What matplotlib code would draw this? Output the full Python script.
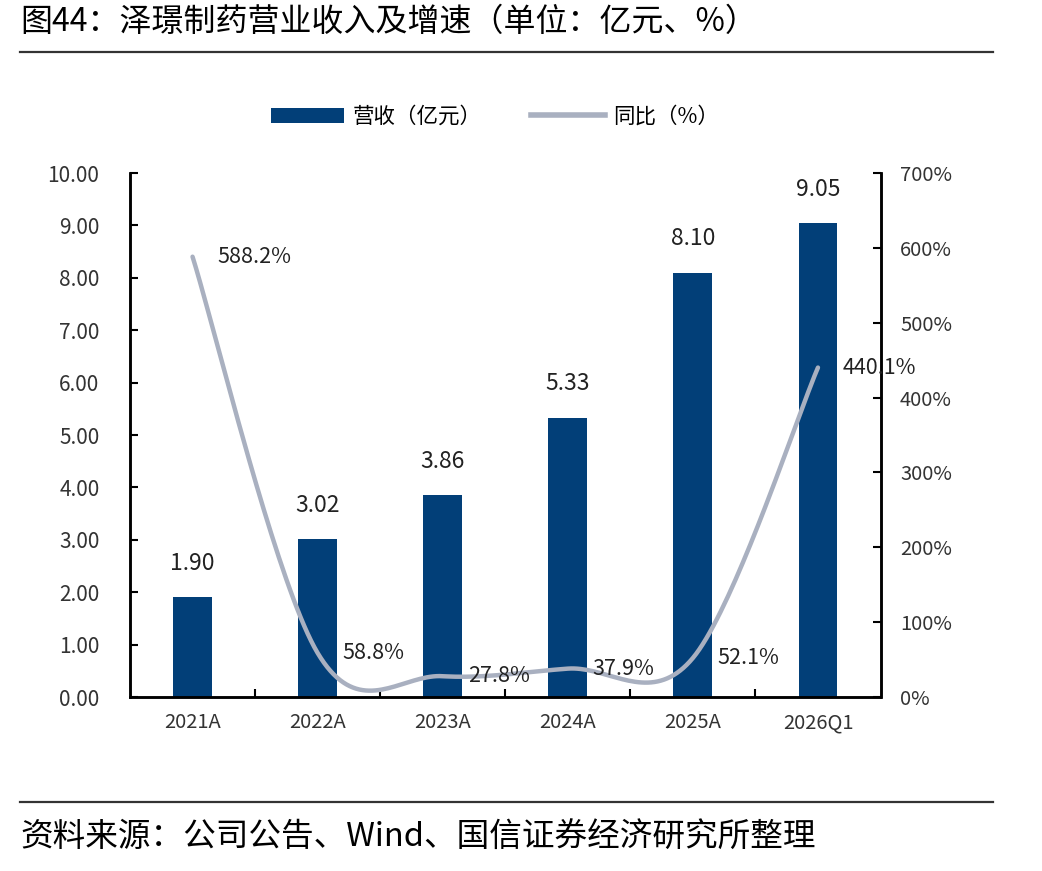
import numpy as np
import matplotlib
matplotlib.use('Agg')
import matplotlib.pyplot as plt
from matplotlib.lines import Line2D
from matplotlib.patches import Patch

plt.rcParams['font.family'] = ['Noto Sans CJK SC', 'DejaVu Sans']

categories = ['2021A', '2022A', '2023A', '2024A', '2025A', '2026Q1']
revenue = [1.90, 3.02, 3.86, 5.33, 8.10, 9.05]
growth = [588.2, 58.8, 27.8, 37.9, 52.1, 440.1]

title = '图44：泽璟制药营业收入及增速（单位：亿元、%）'
source = '资料来源：公司公告、Wind、国信证券经济研究所整理'

BAR_COLOR = '#023F78'
LINE_COLOR = '#A9B0C0'


def smooth_curve(xs, ys, sx, sy, n=40):
    """Catmull-Rom style smoothing (like Excel's smoothed line), done in pixel-ish space."""
    px = np.asarray(xs, float) * sx
    py = np.asarray(ys, float) * sy
    pts = np.column_stack([px, py])
    ext = np.vstack([pts[0], pts, pts[-1]])
    out = []
    t = np.linspace(0, 1, n)[:, None]
    for i in range(1, len(ext) - 2):
        p0, p1, p2, p3 = ext[i - 1], ext[i], ext[i + 1], ext[i + 2]
        c1 = p1 + (p2 - p0) / 6
        c2 = p2 - (p3 - p1) / 6
        seg = ((1 - t) ** 3) * p1 + 3 * ((1 - t) ** 2) * t * c1 + 3 * (1 - t) * t ** 2 * c2 + t ** 3 * p2
        out.append(seg if i == 1 else seg[1:])
    out = np.vstack(out)
    return out[:, 0] / sx, out[:, 1] / sy


fig = plt.figure(figsize=(10.42, 8.71), dpi=100)
ax = fig.add_axes([130 / 1042, 1 - 697 / 871, 750.5 / 1042, 524 / 871])
ax2 = ax.twinx()

x = np.arange(len(categories))
ax.bar(x, revenue, width=0.31, color=BAR_COLOR, zorder=2)
for xi, v in zip(x, revenue):
    ax.annotate(f'{v:.2f}', (xi, v), xytext=(0, 16), textcoords='offset points',
                ha='center', va='bottom', fontsize=16.5, color='#222222')

ax.set_xlim(-0.5, len(categories) - 0.5)
ax.set_ylim(0, 10)
ax.set_yticks(np.arange(0, 10.01, 1))
ax.set_yticklabels([f'{v:.2f}' for v in np.arange(0, 10.01, 1)], fontsize=15, color='#333333')
ax.set_xticks(x)
ax.set_xticklabels(categories, fontsize=14.5, color='#333333')
ax.set_xticks(np.arange(0.5, len(categories) - 1, 1), minor=True)
ax.tick_params(axis='x', which='major', length=0, pad=11)
ax.tick_params(axis='x', which='minor', direction='in', length=6, width=1.5)
ax.tick_params(axis='y', direction='in', length=6, width=1.5, pad=22)

sx = 750.5 / 6
sy = 524 / 700
cx, cy = smooth_curve(x, growth, sx, sy)
ax2.plot(cx, cy, color=LINE_COLOR, lw=3.2, solid_capstyle='round', zorder=3)
ax2.set_ylim(0, 700)
ax2.set_yticks(np.arange(0, 701, 100))
ax2.set_yticklabels([f'{v}%' for v in range(0, 701, 100)], fontsize=14.5, color='#333333')
ax2.tick_params(axis='y', direction='in', length=6, width=1.5, pad=14)
for xi, g in zip(x, growth):
    ax2.annotate(f'{g:.1f}%', (xi, g), xytext=(18, 0), textcoords='offset points',
                 ha='left', va='center', fontsize=15.5, color='#222222')

for a in (ax, ax2):
    a.spines['top'].set_visible(False)
    for s in ('left', 'right', 'bottom'):
        a.spines[s].set_linewidth(1.8)
ax.set_zorder(ax2.get_zorder() - 1)
ax.patch.set_visible(False)

handles = [Patch(facecolor=BAR_COLOR, label='营收（亿元）'),
           Line2D([], [], color=LINE_COLOR, lw=4, label='同比（%）')]
fig.legend(handles=handles, loc='center', bbox_to_anchor=(495 / 1042, 1 - 117 / 871),
           ncol=2, frameon=False, fontsize=15.5, handlelength=3.4, handletextpad=0.4,
           columnspacing=2.3, handleheight=0.7)

fig.text(20 / 1042, 1 - 22 / 871, title, fontsize=23, ha='left', va='center', color='black')
fig.add_artist(Line2D([20 / 1042, 993 / 1042], [1 - 52 / 871] * 2, color='#333333', lw=1.6))
fig.add_artist(Line2D([20 / 1042, 993 / 1042], [1 - 802 / 871] * 2, color='#333333', lw=1.6))
fig.text(20 / 1042, 1 - 838 / 871, source, fontsize=23.5, ha='left', va='center', color='black')

fig.savefig('out.png', dpi=100)
